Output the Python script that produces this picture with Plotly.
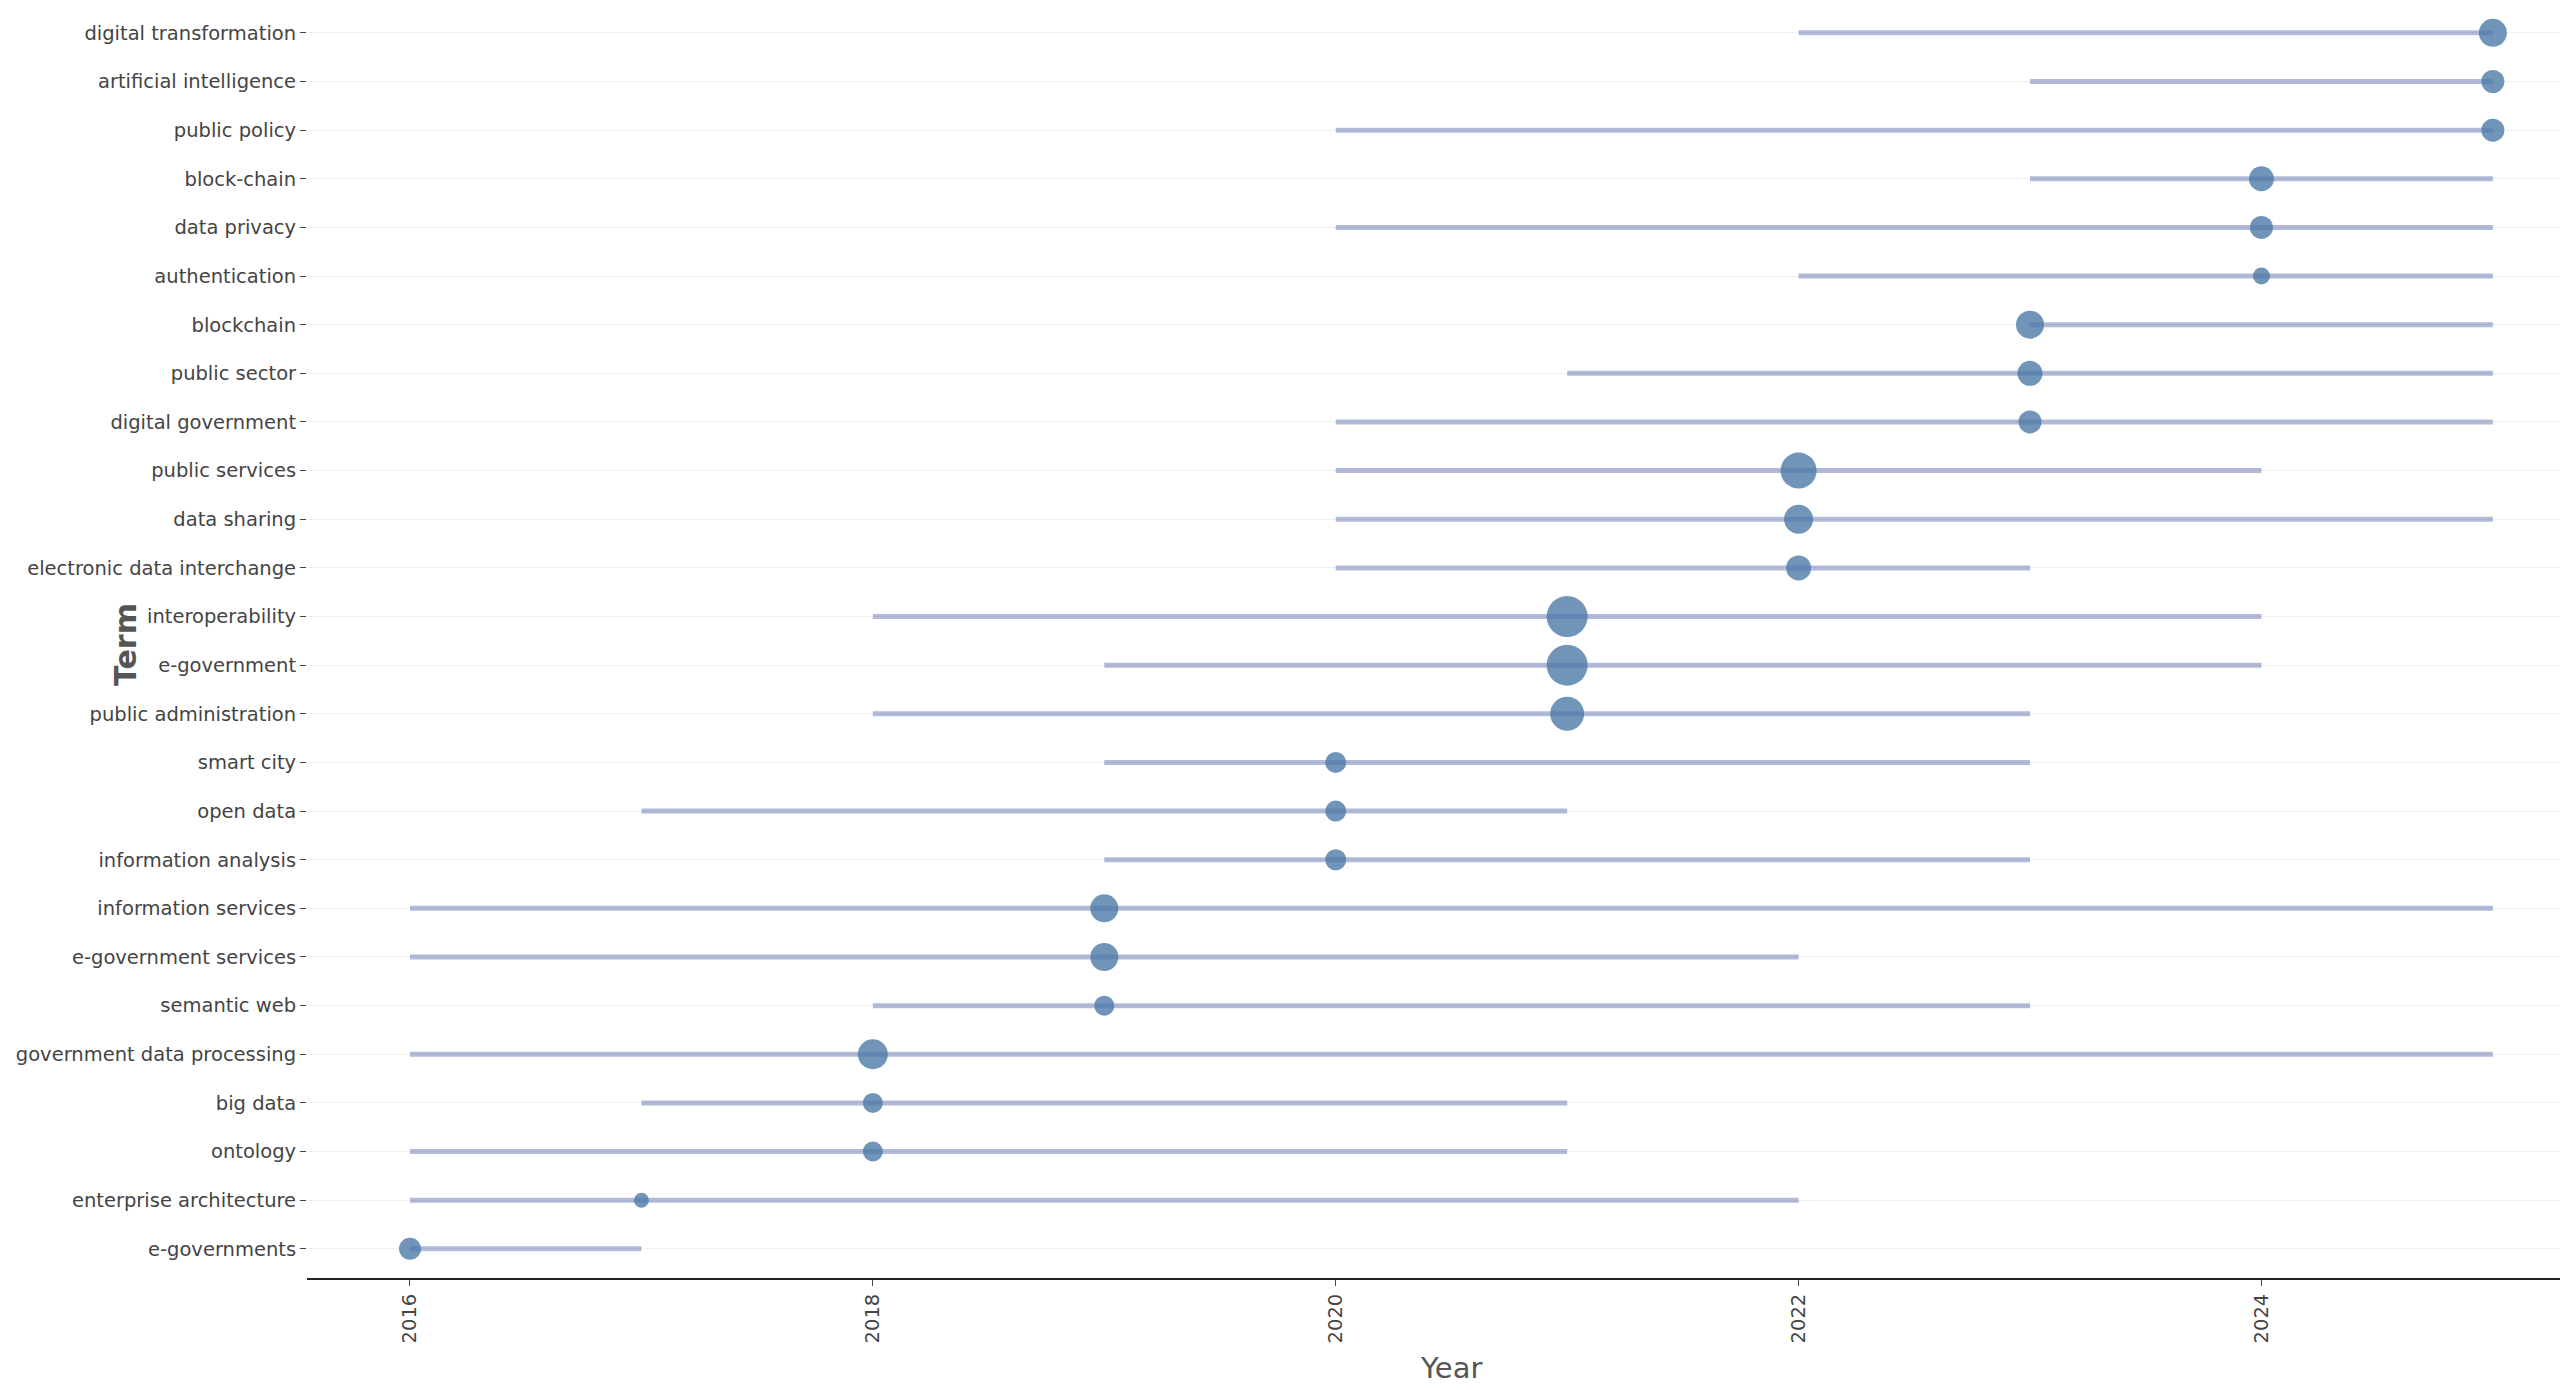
import plotly.graph_objects as go

# Terms listed top to bottom
terms = [
    "digital transformation", "artificial intelligence", "public policy", "block-chain",
    "data privacy", "authentication", "blockchain", "public sector", "digital government",
    "public services", "data sharing", "electronic data interchange", "interoperability",
    "e-government", "public administration", "smart city", "open data",
    "information analysis", "information services", "e-government services",
    "semantic web", "government data processing", "big data", "ontology",
    "enterprise architecture", "e-governments",
]
year_start = [2022, 2023, 2020, 2023, 2020, 2022, 2023, 2021, 2020, 2020, 2020, 2020, 2018,
              2019, 2018, 2019, 2017, 2019, 2016, 2016, 2018, 2016, 2017, 2016, 2016, 2016]
year_median = [2025, 2025, 2025, 2024, 2024, 2024, 2023, 2023, 2023, 2022, 2022, 2022, 2021,
               2021, 2021, 2020, 2020, 2020, 2019, 2019, 2019, 2018, 2018, 2018, 2017, 2016]
year_end = [2025, 2025, 2025, 2025, 2025, 2025, 2025, 2025, 2025, 2024, 2025, 2023, 2024,
            2024, 2023, 2023, 2021, 2023, 2025, 2022, 2023, 2025, 2021, 2021, 2022, 2017]
# estimated term frequency (drives marker size)
freq = [28, 23, 23, 25, 23, 17, 28, 25, 23, 36, 29, 25, 41,
        41, 34, 21, 21, 21, 28, 28, 20, 30, 20, 20, 15, 22]

FONT = "DejaVu Sans"

# build segment coordinates with gaps
seg_x, seg_y = [], []
for t, s, e in zip(terms, year_start, year_end):
    seg_x += [s, e, None]
    seg_y += [t, t, None]

fig = go.Figure()
fig.add_trace(go.Scatter(
    x=seg_x, y=seg_y, mode="lines",
    line=dict(color="rgba(100,120,180,0.5)", width=5),
    hoverinfo="skip", showlegend=False,
))
fig.add_trace(go.Scatter(
    x=year_median, y=terms, mode="markers",
    marker=dict(size=freq, color="#4e79a7", opacity=0.8, line=dict(width=0)),
    showlegend=False,
))

fig.update_layout(
    width=2560, height=1394,
    margin=dict(l=307, r=0, t=10, b=116),
    plot_bgcolor="white", paper_bgcolor="white",
    font=dict(family=FONT, size=19.5, color="#444"),
    xaxis=dict(
        range=[2015.555, 2025.29], dtick=2, tick0=2016,
        tickangle=-90, ticks="outside", ticklen=6, tickcolor="#444",
        showline=True, linecolor="#222", linewidth=2,
        showgrid=False, zeroline=False,
    ),
    yaxis=dict(
        type="category", categoryorder="array", categoryarray=terms[::-1],
        range=[-0.6, 25.47],
        ticks="outside", ticklen=6, tickcolor="#444",
        showgrid=True, gridcolor="#efefef", gridwidth=1,
        showline=False, zeroline=False,
    ),
    annotations=[
        dict(text="<b>Term</b>", xref="paper", yref="paper", x=-0.0808, y=0.5,
             xanchor="center", yanchor="middle", textangle=-90, showarrow=False,
             font=dict(family=FONT, size=30, color="#555")),
        dict(text="Year", xref="paper", yref="paper", x=0.5078, y=-0.071,
             xanchor="center", yanchor="middle", showarrow=False,
             font=dict(family=FONT, size=29, color="#555")),
    ],
)

fig.write_html("out.html")
